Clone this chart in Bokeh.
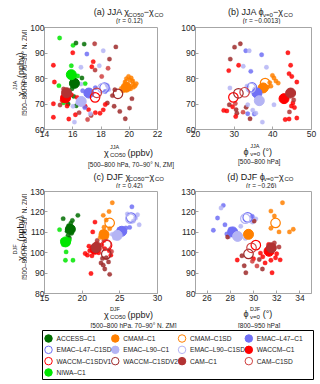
import math
from bokeh.plotting import figure
from bokeh.layouts import column, row
from bokeh.models import Range1d, FixedTicker, ColumnDataSource
from bokeh.embed import file_html
from bokeh.resources import INLINE
from bokeh.core.properties import value

FONT = "Liberation Sans"
GRAY = "#a6a6a6"
TXT = "#1a1a1a"

MODELS = ["ACCESS–C1", "CMAM–C1", "CMAM–C1SD", "EMAC–L47–C1", "EMAC–L47–C1SD",
          "EMAC–L90–C1", "EMAC–L90–C1SD", "WACCM–C1", "WACCM–C1SDV1", "WACCM–C1SDV2",
          "CAM–C1", "CAM–C1SD", "NIWA–C1"]
COLORS = ["#006d00", "#ff8000", "#ff8000", "#7070f5", "#7070f5",
          "#b4b4f4", "#b4b4f4", "#ff0000", "#ff0000", "#9e2a2a",
          "#b23232", "#d04040", "#00e600"]
FILLED = [True, True, False, True, False, True, False, True, False, False, True, False, True]

NAN = float("nan")

# ---- panel (a): JJA chi_CO50 vs chi_CO
A_XTICKS = [14, 16, 18, 20, 22]
A_YTICKS = [60, 70, 80, 90, 100]
A_MEAN_X = [16.12, 19.79, 20.0, 17.14, 18.25, 16.6, 18.1, 15.49, 17.58, 19.2, 15.56, 17.7, 15.9]
A_MEAN_Y = [78.1, 76.6, 78.2, 74.3, 76.4, 71.0, 76.2, 72.4, 72.6, 74.0, 74.4, 74.4, 81.5]
A_DOT_X = [15.07, 16.02, 15.9, 15.02, 16.88, 15.53, 16.35, 15.35,
           16.23, 16.81, 16.65, 16.07, 15.67, 16.25, 15.95,
           16.0, 14.63, 14.7, 14.63, 14.63, 15.72, 16.19, 16.3, 16.88, 17.12, 17.35, 15.25, 15.6, 15.9,
           17.55, 17.58, 15.35, 15.1, 16.45, 17.3,
           19.05, 18.6, 18.98, 18.81, 18.93, 19.33, 20.02, 20.19, 19.72, 18.45,
           18.16, 17.93, 17.6, 18.3, 17.45,
           18.5, 18.05, 17.05,
           17.0, 16.7, 17.6, 16.85,
           18.16, 16.58, 17.88, 16.58, 16.02, 16.12, 17.25, 16.35,
           18.45, 18.55, 18.3,
           19.95, 20.14, 20.42, 19.63, 19.44, 20.26, 19.85, 20.1, 19.55, 20.3, 19.7, 20.05,
           19.8, 20.25, 20.5]
A_DOT_Y = [95.9, 93.0, 85.0, 77.2, 78.0, 71.7, 81.0, 70.5,
           93.9, 93.5, 80.2, 73.0, 70.0, 69.3, 76.0,
           90.1, 85.2, 78.6, 70.1, 64.8, 64.1, 65.8, 72.6, 69.1, 67.8, 84.6, 71.4, 69.2, 73.6,
           93.6, 83.3, 75.9, 69.6, 66.6, 65.5,
           92.4, 87.6, 75.6, 73.3, 69.1, 67.1, 68.4, 72.1, 64.2, 70.4,
           67.7, 66.4, 66.6, 69.8, 86.6,
           84.0, 80.8, 63.9,
           89.6, 75.2, 76.4, 68.6,
           90.9, 84.4, 85.0, 77.8, 69.1, 62.9, 66.2, 70.4,
           77.3, 75.7, 74.9,
           80.8, 80.2, 77.2, 75.6, 76.1, 77.8, 77.6, 76.0, 75.2, 76.6, 78.6, 79.2,
           79.9, 79.0, 78.0]
A_DOT_M = [12] * 8 + [0] * 7 + [7] * 14 + [10] * 6 + [9] * 10 + [8] * 5 + [11] * 3 + [3] * 4 + \
          [5] * 8 + [6, 6, 4] + [1] * 12 + [2] * 3

# ---- panel (b): JJA phi_v=0 vs chi_CO
B_XTICKS = [20, 30, 40, 50]
B_YTICKS = [60, 70, 80, 90, 100]
B_MEAN_X = [NAN, 37.5, 38.0, 35.9, 34.6, 36.5, 34.3, 42.9, 29.8, 31.1, 44.6, 32.7, NAN]
B_MEAN_Y = [NAN, 76.3, 78.2, 74.3, 76.5, 71.3, 76.3, 72.1, 72.6, 74.2, 74.3, 74.6, NAN]
B_DOT_X = [44.2, 44.6, 44.9, 46.2, 45.2, 44.8, 45.6, 44.2, 46.2, 43.9, 43.2,
           45.4, 44.3,
           31.6, 30.1, 29.0, 28.75, 30.5, 30.7, 34.1, 33.1,
           31.15, 28.6, 28.1, 29.6, 30.4, 27.3,
           30.3, 32.3,
           33.0, 37.1, 34.3, 35.2, 33.5,
           33.9, 32.35, 38.35, 28.9, 37.3, 35.6, 33.5, 40.3, 34.8,
           35.3, 33.3,
           40.3, 41.4, 39.5, 40.8, 38.6, 39.2,
           39.9]
B_DOT_Y = [81.9, 85.2, 80.8, 78.6, 70.4, 69.2, 68.6, 64.1, 64.5, 90.1, 63.9,
           71.6, 66.9,
           93.6, 92.3, 87.6, 69.7, 67.8, 66.4, 64.2, 68.7,
           85.2, 83.1, 67.3, 68.9, 65.1, 67.5,
           70.2, 66.8,
           90.9, 89.3, 82.8, 66.1, 66.2,
           90.9, 84.8, 84.4, 76.3, 62.9, 66.4, 69.7, 69.7, 67.6,
           75.8, 77.0,
           80.2, 78.2, 77.0, 79.0, 76.6, 78.4,
           81.2]
B_DOT_M = [7] * 11 + [10] * 2 + [9] * 8 + [8] * 6 + [11] * 2 + [3] * 5 + [5] * 9 + [6] * 2 + [1] * 6 + [2]

# ---- panel (c): DJF chi_CO50 vs chi_CO
C_XTICKS = [15, 20, 25, 30]
C_YTICKS = [80, 90, 100, 110, 120, 130]
C_MEAN_X = [18.43, 22.9, 23.65, 25.26, 26.5, 24.65, 26.4, 21.7, 23.3, 23.2, 21.83, 23.2, 17.8]
C_MEAN_Y = [111.5, 108.9, 114.6, 110.5, 117.2, 108.5, 116.7, 101.7, 103.7, 99.3, 102.5, 104.1, 105.3]
C_DOT_X = [17.48, 19.43, 18.13, 18.5, 18.2, 18.6, 18.3, 18.7, 18.0, 18.45,
           17.0, 17.87, 17.78, 18.78, 17.4, 18.1, 17.5, 18.3,
           21.7, 21.4, 20.4, 21.17, 21.0, 21.3, 22.2, 21.9, 20.9, 20.7,
           22.0, 21.5, 22.3, 22.15,
           22.7, 22.8, 23.0, 23.65, 23.5, 22.5, 23.2,
           23.8, 23.0, 23.6, 22.6,
           23.9, 22.9,
           24.0, 23.57, 22.8, 23.65, 22.6, 22.4, 23.2, 22.9,
           23.2,
           25.8, 25.6, 26.3, 24.9,
           24.3, 25.0, 24.0,
           27.35, 27.57, 26.8, 27.1, 26.0,
           26.6]
C_DOT_Y = [116.7, 118.3, 108.5, 114.5, 113.2, 109.5, 107.2, 115.8, 110.5, 112.6,
           111.3, 100.4, 96.3, 96.3, 106.0, 104.5, 104.0, 106.2,
           115.0, 110.2, 99.6, 89.8, 101.0, 98.5, 100.0, 104.5, 103.2, 98.8,
           106.0, 100.5, 101.8, 104.0,
           97.2, 93.9, 92.0, 89.4, 95.5, 95.0, 97.5,
           98.8, 102.0, 101.0, 103.8,
           100.6, 106.0,
           124.5, 120.2, 118.3, 111.8, 110.0, 107.5, 107.5, 112.5,
           116.0,
           112.1, 110.8, 112.4, 111.5,
           107.2, 109.5, 109.0,
           118.6, 113.7, 115.5, 117.0, 119.0,
           122.5]
C_DOT_M = [0] * 10 + [12] * 8 + [7] * 10 + [10] * 4 + [9] * 7 + [8] * 4 + [11] * 2 + [1] * 8 + [2] + \
          [3] * 4 + [5] * 3 + [6] * 5 + [4]

# ---- panel (d): DJF phi_v=0 vs chi_CO
D_XTICKS = [26, 28, 30, 32, 34]
D_YTICKS = [80, 90, 100, 110, 120, 130]
D_MEAN_X = [NAN, 29.57, 31.9, 28.2, 29.5, 28.63, 29.3, 31.34, 30.2, 29.57, 31.54, 29.83, NAN]
D_MEAN_Y = [NAN, 109.0, 114.6, 110.2, 117.3, 108.0, 116.7, 100.7, 103.7, 99.4, 102.4, 102.4, NAN]
D_DOT_X = [27.4, 26.9, 26.54, 27.54, 28.0, 27.7,
           27.2, 28.9, 29.3, 27.9,
           29.9, 30.2,
           29.9,
           30.06, 27.77, 29.34, 29.2, 30.77, 29.0, 30.5,
           32.5, 31.5, 32.2, 33.43, 33.1, 31.8, 31.5,
           31.5, 31.6, 31.9, 31.3, 32.0, 30.8, 31.0, 32.3,
           31.8, 32.2,
           30.0, 30.6, 28.6,
           29.9, 30.3]
D_DOT_Y = [123.2, 117.0, 111.0, 113.7, 111.5, 109.2,
           121.9, 113.0, 107.0, 108.0,
           115.0, 116.6,
           117.8,
           115.5, 107.7, 90.2, 93.6, 92.0, 98.5, 96.7,
           124.5, 120.4, 110.2, 111.5, 110.2, 118.0, 112.0,
           96.3, 90.2, 97.5, 104.0, 99.5, 98.0, 95.0, 96.5,
           104.8, 102.8,
           97.0, 99.8, 96.4,
           95.8, 93.5]
D_DOT_M = [3] * 6 + [5] * 4 + [6] * 2 + [4] + [9] * 7 + [1] * 7 + [7] * 8 + [10] * 2 + [8] * 3 + [11] * 2

# ---------------------------------------------------------------- text helpers
CW = {' ': 278, '(': 333, ')': 333, '[': 278, ']': 278, 'a': 556, 'b': 556, 'c': 500, 'd': 556,
      'e': 556, 'h': 556, 'p': 556, 'r': 333, 'v': 500, 'J': 500, 'A': 667, 'C': 722, 'D': 722,
      'F': 611, 'O': 778, 'N': 722, 'Z': 611, 'M': 833, 'P': 667, '=': 584, '–': 556, '−': 584,
      '.': 278, ',': 278, '°': 400, 'χ': 600, 'ϕ': 680}
GAP = 1.2


def tw(s, size):
    return sum(CW.get(ch, 556) for ch in s) * size / 1000.0 * 1.08


def rich(store, groups, cx, cy, angle=0.0):
    widths = [max(tw(t, s) for t, s, d in g) for g in groups]
    if len(groups) > 1:
        widths = [w + GAP for w in widths[:-1]] + [widths[-1]]
    pos = -sum(widths) / 2.0
    for g, w in zip(groups, widths):
        for t, s, d in g:
            lead = len(t) - len(t.lstrip())
            off = pos + tw(t[:lead], s)
            if angle == 0:
                x, y = cx + off, cy + d
            else:
                x, y = cx + d, cy - off
            store["x"].append(x)
            store["y"].append(y)
            store["t"].append(t.strip())
            store["s"].append(f"{s}px")
            store["a"].append(angle)
        pos += w


def strip(w, h, x0, x1, ytop, ybot):
    p = figure(width=w, height=h, x_range=Range1d(x0, x1), y_range=Range1d(ybot, ytop),
               x_axis_type=None, y_axis_type=None, output_backend="svg", toolbar_location=None,
               min_border=0, min_border_left=0, min_border_right=0, min_border_top=0, min_border_bottom=0)
    p.grid.visible = False
    p.outline_line_color = None
    p.background_fill_color = "white"
    p.border_fill_color = "white"
    store = dict(x=[], y=[], t=[], s=[], a=[])
    return p, store


def finish(p, store):
    p.text("x", "y", text="t", angle="a", text_font_size="s", source=ColumnDataSource(store),
           text_font=value(FONT), text_align="left", text_baseline="alphabetic", text_color=TXT)


def panel(w, h, bl, br, bt, bb, xr, yr, xt, yt):
    p = figure(width=w, height=h, x_range=Range1d(*xr), y_range=Range1d(*yr),
               output_backend="svg", toolbar_location=None,
               min_border_left=bl, min_border_right=br, min_border_top=bt, min_border_bottom=bb)
    p.grid.visible = False
    p.outline_line_color = GRAY
    p.background_fill_color = "white"
    p.border_fill_color = "white"
    p.xaxis.ticker = FixedTicker(ticks=xt)
    p.yaxis.ticker = FixedTicker(ticks=yt)
    for ax in (p.xaxis[0], p.yaxis[0]):
        ax.axis_line_color = GRAY
        ax.major_tick_line_color = GRAY
        ax.minor_tick_line_color = None
        ax.major_tick_in = 3
        ax.major_tick_out = 0
        ax.major_label_standoff = 1
        ax.major_label_text_font = FONT
        ax.major_label_text_font_size = "8.5px"
        ax.major_label_text_color = "#262626"
    p.yaxis.major_label_standoff = 0
    return p


def draw(p, mx, my, dx, dy, dm):
    src = ColumnDataSource(dict(x=dx, y=dy, c=[COLORS[m] for m in dm]))
    p.scatter("x", "y", source=src, marker="circle", size=4.4, fill_color="c", line_color="c",
              line_width=0.3, fill_alpha=0.85)
    fx, fy, fc, ox, oy, oc = [], [], [], [], [], []
    for i in range(len(MODELS)):
        if math.isnan(mx[i]):
            continue
        if FILLED[i]:
            fx.append(mx[i]); fy.append(my[i]); fc.append(COLORS[i])
        else:
            ox.append(mx[i]); oy.append(my[i]); oc.append(COLORS[i])
    p.scatter("x", "y", source=ColumnDataSource(dict(x=fx, y=fy, c=fc)), marker="circle", size=10,
              fill_color="c", line_color="c")
    p.scatter("x", "y", source=ColumnDataSource(dict(x=ox, y=oy, c=oc)), marker="circle", size=9.5,
              fill_color=None, line_color="c", line_width=1.2)


# ---- page layout (page pixel coordinates; the page origin is the top-left corner)
W = 319
fa = panel(149, 116, 15, 19, 3, 11, (14, 22), (60, 100), A_XTICKS, A_YTICKS)
fb = panel(143, 116, 19, 8, 3, 11, (20, 50), (60, 100), B_XTICKS, B_YTICKS)
fc = panel(149, 116, 15, 19, 3, 11, (15, 30), (80, 130), C_XTICKS, C_YTICKS)
fd = panel(143, 116, 19, 8, 3, 11, (25, 35), (80, 130), D_XTICKS, D_YTICKS)

draw(fa, A_MEAN_X, A_MEAN_Y, A_DOT_X, A_DOT_Y, A_DOT_M)
draw(fb, B_MEAN_X, B_MEAN_Y, B_DOT_X, B_DOT_Y, B_DOT_M)
draw(fc, C_MEAN_X, C_MEAN_Y, C_DOT_X, C_DOT_Y, C_DOT_M)
draw(fd, D_MEAN_X, D_MEAN_Y, D_DOT_X, D_DOT_Y, D_DOT_M)

s1, t1 = strip(W, 24, 0, W, 0, 24)
s2, t2 = strip(W, 48, 0, W, 140, 188)
s3, t3 = strip(W, 24, 0, W, 304, 328)
ya, ta = strip(27, 116, 0, 27, 24, 140)
yc, tc = strip(27, 116, 0, 27, 188, 304)

SUB, SUP = 2.5, -5.5
# titles
rich(t1, [[("(a) JJA χ", 9, 0)], [("CO50", 6, SUB)], [("−χ", 9, 0)], [("CO", 6, SUB)]], 101, 11.5)
rich(t1, [[("(r = 0.12)", 6.5, 0)]], 101, 20)
rich(t1, [[("(b) JJA ϕ", 9, 0)], [("v=0", 6, SUB)], [("−χ", 9, 0)], [("CO", 6, SUB)]], 256, 11.5)
rich(t1, [[("(r = −0.0013)", 6.5, 0)]], 256, 20)
rich(t2, [[("(c) DJF χ", 9, 0)], [("CO50", 6, SUB)], [("−χ", 9, 0)], [("CO", 6, SUB)]], 101, 176)
rich(t2, [[("(r = 0.42)", 6.5, 0)]], 101, 184.5)
rich(t2, [[("(d) DJF ϕ", 9, 0)], [("v=0", 6, SUB)], [("−χ", 9, 0)], [("CO", 6, SUB)]], 256, 176)
rich(t2, [[("(r = −0.26)", 6.5, 0)]], 256, 184.5)

# x labels
rich(t2, [[("χ", 9, 0)], [("JJA", 5.5, SUP), ("CO50", 6, SUB)], [(" (ppbv)", 9, 0)]], 100, 152)
rich(t2, [[("[500–800 hPa, 70–90° N, ZM]", 6.5, 0)]], 100, 163.5)
rich(t2, [[("ϕ", 9, 0)], [("JJA", 5.5, SUP), ("v=0", 6, SUB)], [(" (°)", 9, 0)]], 253, 151)
rich(t2, [[("[500–800 hPa]", 6.5, 0)]], 253, 160.5)
rich(t3, [[("χ", 9, 0)], [("DJF", 5.5, SUP), ("CO50", 6, SUB)], [(" (ppbv)", 9, 0)]], 100, 314)
rich(t3, [[("[500–800 hPa, 70–90° N, ZM]", 6.5, 0)]], 103, 324.5)
rich(t3, [[("ϕ", 9, 0)], [("DJF", 5.5, SUP), ("v=0", 6, SUB)], [(" (°)", 9, 0)]], 253, 313.5)
rich(t3, [[("[800–950 hPa]", 6.5, 0)]], 253, 324.5)

# y labels (rotated)
HALF = math.pi / 2
rich(ta, [[("χ", 9, 0)], [("JJA", 5.5, SUP), ("CO", 6, SUB)], [(" (ppbv)", 9, 0)]], 20.0, 78, angle=HALF)
rich(ta, [[("[500–800 hPa, 70–90° N, ZM]", 6.5, 0)]], 23.8, 78, angle=HALF)
rich(tc, [[("χ", 9, 0)], [("DJF", 5.5, SUP), ("CO", 6, SUB)], [(" (ppbv)", 9, 0)]], 20.0, 242, angle=HALF)
rich(tc, [[("[500–800 hPa, 70–90° N, ZM]", 6.5, 0)]], 23.8, 242, angle=HALF)

for fig, st in ((s1, t1), (s2, t2), (s3, t3), (ya, ta), (yc, tc)):
    finish(fig, st)

# legend
LEG_COL = [i % 4 for i in range(len(MODELS))]
LEG_ROW = [i // 4 for i in range(len(MODELS))]
fl = figure(width=W, height=54, x_range=Range1d(0, 4.059), y_range=Range1d(3.62, -0.707),
            x_axis_type=None, y_axis_type=None, output_backend="svg", toolbar_location=None,
            min_border_left=42, min_border_right=6, min_border_top=2, min_border_bottom=3)
fl.grid.visible = False
fl.outline_line_color = "black"
fl.outline_line_width = 1
lsrc = ColumnDataSource(dict(
    x=[c + 0.09 for c in LEG_COL], y=LEG_ROW, tx=[c + 0.21 for c in LEG_COL],
    fc=[COLORS[i] if FILLED[i] else None for i in range(len(MODELS))],
    lc=COLORS, name=MODELS))
fl.scatter("x", "y", source=lsrc, marker="circle", size=7.5, fill_color="fc", line_color="lc", line_width=1)
fl.text("tx", "y", text="name", source=lsrc, text_font=value(FONT), text_font_size="6.6px",
        text_baseline="middle", text_align="left", text_color=TXT)

layout = column(s1, row(ya, fa, fb), s2, row(yc, fc, fd), s3, fl)
open("out.html", "w").write(file_html(layout, INLINE))
